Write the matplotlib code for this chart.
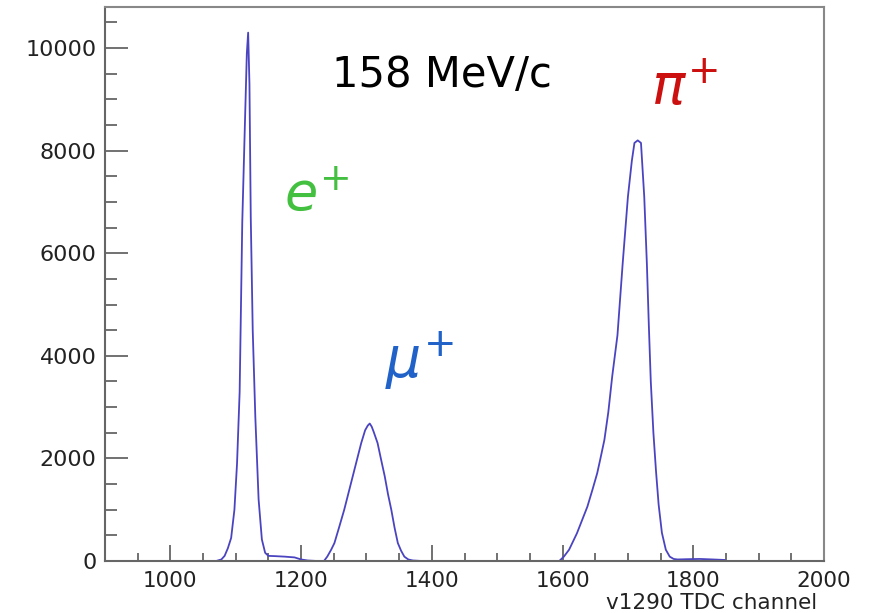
import matplotlib
matplotlib.use("Agg")
import matplotlib.pyplot as plt
from matplotlib.ticker import MultipleLocator

# TDC spectrum (channel, counts)
channel = [1048, 1070, 1078, 1083, 1088, 1093, 1098, 1102, 1106, 1110, 1114,
           1117, 1119, 1121, 1123, 1126, 1130, 1135, 1140, 1145, 1150, 1160,
           1175, 1190, 1200, 1210, 1225, 1235, 1240, 1246, 1251, 1258, 1266,
           1272, 1279, 1286, 1292, 1298, 1302, 1305, 1308, 1311, 1317, 1322,
           1328, 1333, 1338, 1343, 1348, 1353, 1358, 1364, 1371, 1385, 1400,
           1595, 1602, 1610, 1622, 1630, 1638, 1646, 1653, 1658, 1664, 1670,
           1676, 1684, 1692, 1700, 1706, 1710, 1715, 1720, 1725, 1729, 1732,
           1735, 1739, 1743, 1747, 1752, 1758, 1764, 1770, 1776, 1790, 1810,
           1830, 1848]
counts = [0, 0, 30, 100, 250, 450, 1000, 1900, 3300, 6600, 8500,
          9900, 10300, 9300, 6700, 4500, 2800, 1200, 420, 160, 100, 95,
          85, 70, 30, 10, 0, 0, 85, 220, 350, 650, 1000,
          1300, 1650, 2000, 2300, 2550, 2640, 2680, 2620, 2520, 2300, 2000,
          1650, 1300, 1000, 650, 350, 200, 85, 30, 10, 0, 0,
          0, 85, 220, 540, 800, 1060, 1400, 1710, 2000, 2360, 2900,
          3600, 4400, 5800, 7100, 7800, 8150, 8200, 8150, 7100, 5800, 4600,
          3500, 2500, 1750, 1100, 550, 220, 85, 40, 30, 35, 40,
          30, 20]

x_ticks = [1000, 1200, 1400, 1600, 1800, 2000]
y_ticks = [0, 2000, 4000, 6000, 8000, 10000]

fig = plt.figure(figsize=(8.73, 6.13), dpi=100)
ax = fig.add_axes([105 / 873, 1 - 561 / 613, 719 / 873, 554 / 613])

ax.plot(channel, counts, color="#4b44c0", lw=1.3)

ax.set_xlim(900, 2000)
ax.set_ylim(0, 10800)
ax.set_xticks(x_ticks)
ax.set_yticks(y_ticks)
ax.xaxis.set_minor_locator(MultipleLocator(50))
ax.yaxis.set_minor_locator(MultipleLocator(500))
ax.tick_params(axis="both", which="both", direction="in", color="#666666",
               width=1.3, labelsize=16, labelcolor="#222222")
ax.tick_params(axis="x", which="major", length=11.5, pad=7, top=False,
               labelsize=15.5)
ax.tick_params(axis="x", which="minor", length=5.8, top=False)
ax.tick_params(axis="y", which="major", length=16.5, pad=6, right=False)
ax.tick_params(axis="y", which="minor", length=8.6, right=False)

for side in ["left", "bottom"]:
    ax.spines[side].set_color("#666666")
    ax.spines[side].set_linewidth(1.5)
for side in ["top", "right"]:
    ax.spines[side].set_color("#888888")
    ax.spines[side].set_linewidth(1.5)

fig.text(817 / 873, 1 - 609 / 613, "v1290 TDC channel", ha="right",
         va="baseline", fontsize=15.5, color="#222222")

ax.text(1415, 9474, "158 MeV/c", ha="center", va="center", fontsize=30,
        color="black")
ax.text(1174, 6850, r"$e^{+}$", ha="left", va="baseline", fontsize=39,
        color="#44c040")
ax.text(1328, 3580, r"$\mu^{+}$", ha="left", va="baseline", fontsize=40,
        color="#2062c8")
ax.text(1735, 8900, r"$\pi^{+}$", ha="left", va="baseline", fontsize=40,
        color="#cc1010")

fig.savefig("out.png", dpi=100)
